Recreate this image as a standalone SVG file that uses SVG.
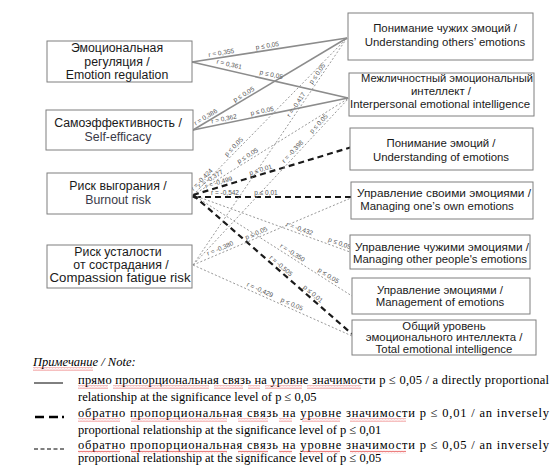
<svg xmlns="http://www.w3.org/2000/svg" width="559" height="465" viewBox="0 0 559 465">
<defs>
<style>
.box{fill:#fff;stroke:#7f7f7f;stroke-width:1}
.bt{font-family:"Liberation Sans",Arial,sans-serif;font-size:11.4px;fill:#1a1a1a;text-anchor:middle}
.bl{font-family:"Liberation Sans",Arial,sans-serif;font-size:12.3px;fill:#1a1a1a;text-anchor:middle}
.en{fill:#3a3a48}
.lb{font-family:"Liberation Sans",Arial,sans-serif;font-size:6.5px;fill:#555;text-anchor:middle}
.pos{stroke:#8c8c8c;stroke-width:1.6;fill:none}
.neg1{stroke:#1a1a1a;stroke-width:2.2;stroke-dasharray:6 4;fill:none}
.neg5{stroke:#8c8c8c;stroke-width:0.9;stroke-dasharray:2 2;fill:none}
.lg{font-family:"Liberation Serif","Times New Roman",serif;font-size:12.5px;fill:#000}
.wv{fill:url(#wavy)}
</style>
<pattern id="wavy" patternUnits="userSpaceOnUse" x="0" y="0" width="3" height="3"><path d="M0,2.2 L0.75,0.8 L1.5,2.2 L2.25,0.8 L3,2.2" fill="none" stroke="#e03030" stroke-width="0.6"/></pattern>
<marker id="ab" viewBox="0 0 6 6" refX="1" refY="3" markerWidth="4" markerHeight="4" orient="auto-start-reverse" markerUnits="userSpaceOnUse"><path d="M0,0 L6,3 L0,6 z" fill="#1a1a1a"/></marker>
</defs>
<rect width="559" height="465" fill="#fff"/>

<g id="connectors">
<line class="pos" x1="192" y1="62" x2="347" y2="38"/>
<line class="pos" x1="192" y1="62" x2="348" y2="98"/>
<line class="pos" x1="193" y1="130" x2="347" y2="38"/>
<line class="pos" x1="193" y1="130" x2="348" y2="98"/>
<line class="neg5" x1="193" y1="195" x2="347" y2="38"/>
<line class="neg5" x1="193" y1="195" x2="349" y2="98"/>
<line class="neg1" x1="193" y1="195" x2="352" y2="147"/>
<line class="neg1" x1="195" y1="197" x2="351" y2="197" marker-start="url(#ab)"/>
<line class="neg5" x1="193" y1="195" x2="350" y2="252"/>
<line class="neg5" x1="193" y1="195" x2="352" y2="296"/>
<line class="neg1" x1="193" y1="195" x2="352" y2="334"/>
<line class="neg5" x1="193" y1="265" x2="347" y2="38"/>
<line class="neg5" x1="193" y1="265" x2="349" y2="98"/>
<line class="neg5" x1="193" y1="265" x2="351" y2="198"/>
<line class="neg5" x1="193" y1="265" x2="352" y2="336"/>
<g id="labels">
<text class="lb" x="222" y="57.4" dy="-2.5" transform="rotate(-8.8 222 57.4)">r = 0,355</text>
<text class="lb" x="268" y="50.2" dy="-2.5" transform="rotate(-8.8 268 50.2)">p ≤ 0,05</text>
<text class="lb" x="228" y="69.8" dy="-3.5" transform="rotate(13 228 69.8)">r = 0,361</text>
<text class="lb" x="270" y="80" dy="-3.5" transform="rotate(13 270 80)">p ≤ 0,05</text>
<text class="lb" x="208" y="121" dy="-2.5" transform="rotate(-30.9 208 121)">r = 0,386</text>
<text class="lb" x="246" y="98.4" dy="-2.5" transform="rotate(-30.9 246 98.4)">p ≤ 0,05</text>
<text class="lb" x="225" y="123.4" dy="-2.5" transform="rotate(-11.7 225 123.4)">r = 0,362</text>
<text class="lb" x="263" y="115.5" dy="-2.5" transform="rotate(-11.7 263 115.5)">p ≤ 0,05</text>
<text class="lb" x="205" y="182.8" dy="-2.5" transform="rotate(-45.5 205 182.8)">r = -0,424</text>
<text class="lb" x="237" y="150.1" dy="-2.5" transform="rotate(-45.5 237 150.1)">p ≤ 0,05</text>
<text class="lb" x="213" y="182.6" dy="-2.5" transform="rotate(-31.9 213 182.6)">r = -0,377</text>
<text class="lb" x="250" y="159.6" dy="-2.5" transform="rotate(-31.9 250 159.6)">p ≤ 0,05</text>
<text class="lb" x="220" y="186.8" dy="-2.5" transform="rotate(-16.8 220 186.8)">r = -0,499</text>
<text class="lb" x="262" y="174.2" dy="-2.5" transform="rotate(-16.8 262 174.2)">p ≤ 0,01</text>
<text class="lb" x="225" y="197" dy="-2.5">r = -0,542</text>
<text class="lb" x="266" y="197" dy="-2.5">p ≤ 0,01</text>
<text class="lb" x="298" y="233.1" dy="-2.5" transform="rotate(20 298 233.1)">r = -0,432</text>
<text class="lb" x="338" y="247.6" dy="-2.5" transform="rotate(20 338 247.6)">p ≤ 0,05</text>
<text class="lb" x="290" y="256.6" dy="-2.5" transform="rotate(32.4 290 256.6)">r = -0,350</text>
<text class="lb" x="326" y="279.5" dy="-2.5" transform="rotate(32.4 326 279.5)">p ≤ 0,05</text>
<text class="lb" x="278" y="269.3" dy="-2.5" transform="rotate(41.2 278 269.3)">r = -0,505</text>
<text class="lb" x="310" y="297.3" dy="-2.5" transform="rotate(41.2 310 297.3)">p ≤ 0,01</text>
<text class="lb" x="300" y="107.2" dy="-2.5" transform="rotate(-55.9 300 107.2)">r = -0,417</text>
<text class="lb" x="321" y="76.3" dy="-2.5" transform="rotate(-55.9 321 76.3)">p ≤ 0,05</text>
<text class="lb" x="296" y="154.7" dy="-2.5" transform="rotate(-47 296 154.7)">r = -0,398</text>
<text class="lb" x="322" y="126.9" dy="-2.5" transform="rotate(-47 322 126.9)">p ≤ 0,05</text>
<text class="lb" x="222" y="252.7" dy="-2.5" transform="rotate(-23 222 252.7)">r = -0,380</text>
<text class="lb" x="258" y="237.4" dy="-2.5" transform="rotate(-23 258 237.4)">p ≤ 0,05</text>
<text class="lb" x="258" y="294" dy="-2.5" transform="rotate(24.1 258 294)">r = -0,429</text>
<text class="lb" x="290" y="308.3" dy="-2.5" transform="rotate(24.1 290 308.3)">p ≤ 0,05</text>
</g>
</g>

<g id="n-er"><rect class="box" x="47" y="41" width="145" height="41"/>
<text class="bl" x="117" y="52">Эмоциональная</text><text class="bl" x="117" y="66">регуляция /</text><text class="bl" x="117" y="79">Emotion regulation</text></g>
<g id="n-se"><rect class="box" x="46" y="110" width="147" height="40"/>
<text class="bl" x="118" y="127">Самоэффективность /</text><text class="bl en" x="118" y="141">Self-efficacy</text></g>
<g id="n-br"><rect class="box" x="47" y="173" width="145" height="41"/>
<text class="bl" x="118" y="189.5">Риск выгорания /</text><text class="bl en" x="118" y="203.5">Burnout risk</text></g>
<g id="n-cf"><rect class="box" x="47" y="245" width="145" height="43"/>
<text class="bl" x="118" y="256">Риск усталости</text><text class="bl" x="121" y="269">от сострадания /</text><text class="bl" x="120" y="282" textLength="141" lengthAdjust="spacingAndGlyphs">Compassion fatigue risk</text></g>

<g id="n-uo"><rect class="box" x="348" y="13" width="185" height="47"/>
<text class="bt" x="445" y="32">Понимание чужих эмоций /</text><text class="bt" x="445" y="46">Understanding others’ emotions</text></g>
<g id="n-ie"><rect class="box" x="349" y="73" width="185" height="43"/>
<text class="bt" x="447" y="82" textLength="172" lengthAdjust="spacingAndGlyphs">Межличностный эмоциональный</text><text class="bt" x="441" y="95">интеллект /</text><text class="bt" x="440" y="108" textLength="180" lengthAdjust="spacingAndGlyphs">Interpersonal emotional intelligence</text></g>
<g id="n-ue"><rect class="box" x="350" y="128" width="183" height="42"/>
<text class="bt" x="441" y="147">Понимание эмоций /</text><text class="bt" x="441" y="161">Understanding of emotions</text></g>
<g id="n-mo"><rect class="box" x="351" y="182" width="182" height="37"/>
<text class="bt" x="444" y="197" textLength="174" lengthAdjust="spacingAndGlyphs">Управление своими эмоциями /</text><text class="bt" x="437" y="210">Managing one’s own emotions</text></g>
<g id="n-mp"><rect class="box" x="350" y="235" width="180" height="34"/>
<text class="bt" x="442" y="251" textLength="174" lengthAdjust="spacingAndGlyphs">Управление чужими эмоциями /</text><text class="bt" x="440" y="263" textLength="174" lengthAdjust="spacingAndGlyphs">Managing other people's emotions</text></g>
<g id="n-me"><rect class="box" x="352" y="278" width="178" height="36"/>
<text class="bt" x="440" y="294">Управление эмоциями /</text><text class="bt" x="440" y="306">Management of emotions</text></g>
<g id="n-te"><rect class="box" x="352" y="320" width="184" height="35"/>
<text class="bt" x="444" y="329.5">Общий уровень</text><text class="bt" x="444" y="341">эмоционального интеллекта /</text><text class="bt" x="444" y="353">Total emotional intelligence</text></g>

<g id="legend">
<text class="lg" x="33" y="366" font-style="italic">Примечание / Note:</text>
<rect class="wv" x="33" y="367.5" width="60" height="3"/>
<line x1="34" y1="383" x2="63" y2="383" stroke="#000" stroke-width="1"/>
<text class="lg" x="78" y="384" textLength="471" lengthAdjust="spacing">прямо пропорциональная связь на уровне значимости p ≤ 0,05 / a directly proportional</text>
<rect class="wv" x="78" y="385.5" width="30" height="3"/><rect class="wv" x="113" y="385.5" width="96" height="3"/><rect class="wv" x="214" y="385.5" width="29" height="3"/><rect class="wv" x="248" y="385.5" width="12" height="3"/><rect class="wv" x="265" y="385.5" width="37" height="3"/><rect class="wv" x="307" y="385.5" width="54" height="3"/>
<text class="lg" x="78" y="400.5">relationship at the significance level of p ≤ 0,05</text>
<path d="M35,417 h9 M49,417 h9 M62,417 h2" stroke="#000" stroke-width="2.5"/>
<text class="lg" x="78" y="417" textLength="471" lengthAdjust="spacing">обратно пропорциональная связь на уровне значимости p ≤ 0,01 / an inversely</text>
<rect class="wv" x="78" y="418.5" width="42" height="3"/><rect class="wv" x="131" y="418.5" width="96" height="3"/><rect class="wv" x="238" y="418.5" width="30" height="3"/><rect class="wv" x="279" y="418.5" width="13" height="3"/><rect class="wv" x="302" y="418.5" width="38" height="3"/><rect class="wv" x="350" y="418.5" width="56" height="3"/>
<text class="lg" x="78" y="433.5">proportional relationship at the significance level of p ≤ 0,01</text>
<line x1="34" y1="449" x2="64" y2="449" stroke="#000" stroke-width="1" stroke-dasharray="4 2.5"/>
<text class="lg" x="78" y="449" textLength="471" lengthAdjust="spacing">обратно пропорциональная связь на уровне значимости p ≤ 0,05 / an inversely</text>
<rect class="wv" x="78" y="450.5" width="42" height="3"/><rect class="wv" x="131" y="450.5" width="96" height="3"/><rect class="wv" x="238" y="450.5" width="30" height="3"/><rect class="wv" x="279" y="450.5" width="13" height="3"/><rect class="wv" x="302" y="450.5" width="38" height="3"/><rect class="wv" x="350" y="450.5" width="56" height="3"/>
<text class="lg" x="78" y="462">proportional relationship at the significance level of p ≤ 0,05</text>
</g>
</svg>
